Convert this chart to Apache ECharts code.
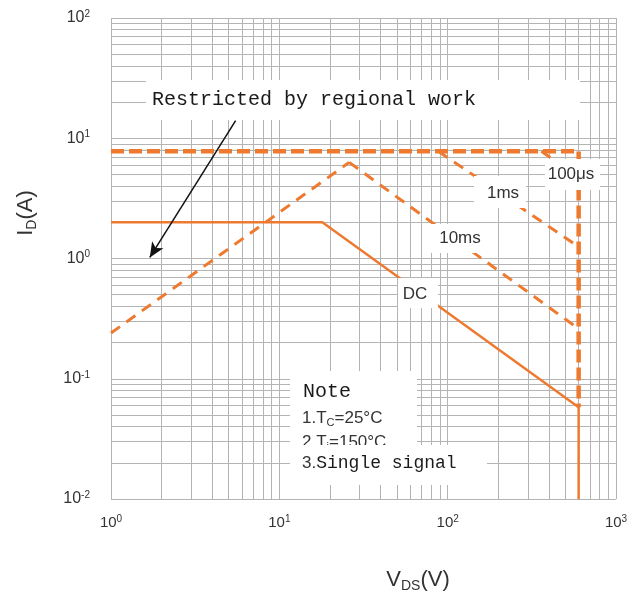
<!DOCTYPE html>
<html>
<head>
<meta charset="utf-8">
<script src="https://cdn.jsdelivr.net/npm/echarts@6/dist/echarts.min.js"></script>
<style>
html,body{margin:0;padding:0;background:#fff;}
#chart{width:644px;height:596px;}
</style>
</head>
<body>
<div id="chart"></div>
<script>
// ---- data (VDS in V, ID in A) ----
const xDecades = [1, 10, 100];
const yDecades = [0.01, 0.1, 1, 10];
const xMax = 1000;
const yMax = 100;

// horizontal current limit + 100µs boundary (thick dashed)
const limitV = [1, 600, 600];
const limitI = [7.8, 7.8, 0.058];
// Rds(on) limited region (dashed rising)
const rdsV = [1, 26];
const rdsI = [0.24, 6.3];
// 10 ms
const ms10V = [26, 600];
const ms10I = [6.3, 0.26];
// 1 ms
const ms1V = [88, 600];
const ms1I = [7.8, 1.25];
// 100 µs
const us100V = [360, 600];
const us100I = [7.8, 4.7];
// DC
const dcV = [1, 18, 600, 600];
const dcI = [2.0, 2.0, 0.058, 0.01];
// arrow (restricted by regional work)
const arrowV = [5.5, 1.7];
const arrowI = [14, 1.02];

const ORANGE = '#EE7A30';
const GRIDC = '#b4b4b4';

function pairs(xs, ys) { return xs.map((x, i) => [x, ys[i]]); }
function gridVals(decades, max) {
  const out = [];
  decades.forEach(d => { for (let m = 1; m <= 9; m++) out.push(m * d); });
  out.push(max);
  return out;
}
const xGrid = gridVals(xDecades, xMax);
const yGrid = gridVals(yDecades, yMax);

function expLabel(v) {
  const e = Math.round(Math.log10(v));
  return '{b|10}{s|' + e + '}';
}

const chart = echarts.init(document.getElementById('chart'), null, {renderer: 'canvas'});

const dashedThin = {color: ORANGE, width: 3, type: [11, 8]};

const option = {
  animation: false,
  backgroundColor: '#fff',
  grid: {left: 111, right: 28, top: 18, bottom: 97},
  xAxis: {
    type: 'log', logBase: 10, min: 1, max: xMax,
    axisLine: {show: false}, axisTick: {show: false}, splitLine: {show: false},
    axisLabel: {
      margin: 15, color: '#333', formatter: expLabel,
      rich: {
        b: {fontSize: 15, fontFamily: 'Liberation Sans', color: '#333', lineHeight: 18},
        s: {fontSize: 10, fontFamily: 'Liberation Sans', color: '#333', lineHeight: 10, verticalAlign: 'top'}
      }
    }
  },
  yAxis: {
    type: 'log', logBase: 10, min: 0.01, max: yMax,
    axisLine: {show: false}, axisTick: {show: false}, splitLine: {show: false},
    axisLabel: {
      margin: 21, color: '#333', formatter: expLabel,
      rich: {
        b: {fontSize: 16, fontFamily: 'Liberation Sans', color: '#333', lineHeight: 18},
        s: {fontSize: 10, fontFamily: 'Liberation Sans', color: '#333', lineHeight: 10, verticalAlign: 'top'}
      }
    }
  },
  series: [
    {
      name: 'grid', type: 'line', data: [[1, 1]], showSymbol: false,
      lineStyle: {opacity: 0}, silent: true, z: 1,
      markLine: {
        z: 1,
        silent: true, symbol: ['none', 'none'], label: {show: false},
        lineStyle: {color: GRIDC, width: 1, type: 'solid'},
        emphasis: {disabled: true},
        data: xGrid.map(v => ({xAxis: v})).concat(yGrid.map(v => ({yAxis: v})))
      }
    },
    {name: 'DC', type: 'line', data: pairs(dcV, dcI), showSymbol: false, z: 10,
     lineStyle: {color: ORANGE, width: 2.5}},
    {name: 'Rds', type: 'line', data: pairs(rdsV, rdsI), showSymbol: false, z: 10,
     lineStyle: dashedThin},
    {name: '10ms', type: 'line', data: pairs(ms10V, ms10I), showSymbol: false, z: 10,
     lineStyle: dashedThin},
    {name: '1ms', type: 'line', data: pairs(ms1V, ms1I), showSymbol: false, z: 10,
     lineStyle: dashedThin},
    {name: '100us', type: 'line', data: pairs(us100V, us100I), showSymbol: false, z: 10,
     lineStyle: dashedThin},
    {name: 'limit', type: 'line', data: pairs(limitV, limitI), showSymbol: false, z: 11,
     lineStyle: {color: ORANGE, width: 4.5, type: [13, 5]}},
    {
      name: 'arrow', type: 'line', data: [[1, 1]], showSymbol: false,
      lineStyle: {opacity: 0}, silent: true, z: 12,
      markLine: {
        z: 12,
        silent: true, symbol: ['none', 'arrow'], symbolSize: [10, 15],
        label: {show: false},
        lineStyle: {color: '#111', width: 1.5, type: 'solid'},
        emphasis: {disabled: true},
        data: [[{coord: [arrowV[0], arrowI[0]]}, {coord: [arrowV[1], arrowI[1]]}]]
      }
    }
  ],
  graphic: [
    // Restricted-by box
    {type: 'rect', z: 100, shape: {x: 146, y: 80, width: 434, height: 40}, style: {fill: '#fff'}},
    {type: 'text', z: 101, x: 152, y: 100,
     style: {text: 'Restricted by regional work', fontFamily: 'Liberation Mono', fontSize: 20,
             fill: '#1a1a1a', align: 'left', verticalAlign: 'middle'}},
    // label boxes on curves
    {type: 'rect', z: 100, shape: {x: 545, y: 159, width: 55, height: 31}, style: {fill: '#fff'}},
    {type: 'text', z: 101, x: 571, y: 174,
     style: {text: '100μs', fontFamily: 'Liberation Sans', fontSize: 17, fill: '#333', align: 'center', verticalAlign: 'middle'}},
    {type: 'rect', z: 100, shape: {x: 474, y: 176, width: 52, height: 32}, style: {fill: '#fff'}},
    {type: 'text', z: 101, x: 503, y: 193,
     style: {text: '1ms', fontFamily: 'Liberation Sans', fontSize: 17, fill: '#333', align: 'center', verticalAlign: 'middle'}},
    {type: 'rect', z: 100, shape: {x: 430, y: 224, width: 60, height: 29}, style: {fill: '#fff'}},
    {type: 'text', z: 101, x: 460, y: 238,
     style: {text: '10ms', fontFamily: 'Liberation Sans', fontSize: 17, fill: '#333', align: 'center', verticalAlign: 'middle'}},
    {type: 'rect', z: 100, shape: {x: 398, y: 278, width: 40, height: 30}, style: {fill: '#fff'}},
    {type: 'text', z: 101, x: 415, y: 294,
     style: {text: 'DC', fontFamily: 'Liberation Sans', fontSize: 17, fill: '#333', align: 'center', verticalAlign: 'middle'}},
    // Note box
    {type: 'rect', z: 100, shape: {x: 290, y: 371, width: 127, height: 75}, style: {fill: '#fff'}},
    {type: 'text', z: 101, x: 303, y: 392,
     style: {text: 'Note', fontFamily: 'Liberation Mono', fontSize: 20, fill: '#1a1a1a', align: 'left', verticalAlign: 'middle'}},
    {type: 'text', z: 101, x: 302, y: 418,
     style: {text: '{a|1.T}{s|C}{a|=25°C}', align: 'left', verticalAlign: 'middle',
             rich: {a: {fontFamily: 'Liberation Sans', fontSize: 17, fill: '#333', lineHeight: 20},
                    s: {fontFamily: 'Liberation Sans', fontSize: 11, fill: '#333', lineHeight: 12, verticalAlign: 'bottom'}}}},
    {type: 'text', z: 101, x: 302, y: 442,
     style: {text: '{a|2.T}{s|j}{a|=150°C}', align: 'left', verticalAlign: 'middle',
             rich: {a: {fontFamily: 'Liberation Sans', fontSize: 17, fill: '#333', lineHeight: 20},
                    s: {fontFamily: 'Liberation Sans', fontSize: 11, fill: '#333', lineHeight: 12, verticalAlign: 'bottom'}}}},
    {type: 'rect', z: 102, shape: {x: 290, y: 445, width: 197, height: 40}, style: {fill: '#fff'}},
    {type: 'text', z: 103, x: 302, y: 463,
     style: {text: '{a|3.}{m|Single signal}', align: 'left', verticalAlign: 'middle',
             rich: {a: {fontFamily: 'Liberation Sans', fontSize: 17, fill: '#333'},
                    m: {fontFamily: 'Liberation Mono', fontSize: 18, fill: '#1a1a1a'}}}},
    // axis titles
    {type: 'text', z: 101, x: 26, y: 213, rotation: Math.PI / 2,
     style: {text: '{a|I}{s|D}{a|(A)}', align: 'center', verticalAlign: 'middle',
             rich: {a: {fontFamily: 'Liberation Sans', fontSize: 22, fill: '#333', lineHeight: 26},
                    s: {fontFamily: 'Liberation Sans', fontSize: 14, fill: '#333', lineHeight: 16, verticalAlign: 'bottom'}}}},
    {type: 'text', z: 101, x: 418, y: 580,
     style: {text: '{a|V}{s|DS}{a|(V)}', align: 'center', verticalAlign: 'middle',
             rich: {a: {fontFamily: 'Liberation Sans', fontSize: 22, fill: '#333', lineHeight: 26},
                    s: {fontFamily: 'Liberation Sans', fontSize: 14, fill: '#333', lineHeight: 16, verticalAlign: 'bottom'}}}}
  ]
};
chart.setOption(option);
</script>
</body>
</html>
